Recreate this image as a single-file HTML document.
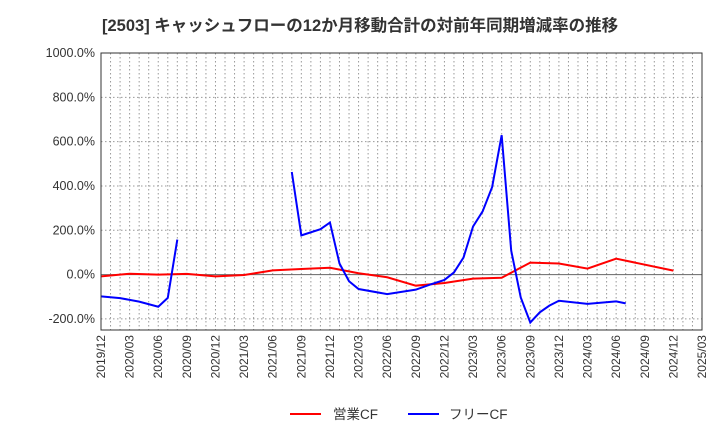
<!DOCTYPE html>
<html><head><meta charset="utf-8"><style>
body{margin:0;background:#fff;width:720px;height:440px;overflow:hidden;font-family:"Liberation Sans","Noto Sans CJK JP",sans-serif}
</style></head><body>
<svg id="chart" width="720" height="440" xmlns="http://www.w3.org/2000/svg">
<text x="102" y="31" font-size="16.5" font-weight="bold" fill="#333" font-family="Liberation Sans,Noto Sans CJK JP,sans-serif">[2503]  キャッシュフローの12か月移動合計の対前年同期増減率の推移</text>
<g id="grid"></g><g id="series"></g><g id="axes"></g>
<g>
<line x1="290" y1="414" x2="321" y2="414" stroke="#f00" stroke-width="2"/>
<text x="333" y="419" font-size="13.5" fill="#333" font-family="Liberation Sans,Noto Sans CJK JP,sans-serif">営業CF</text>
<line x1="408" y1="414" x2="439" y2="414" stroke="#00f" stroke-width="2"/>
<text x="449" y="419" font-size="13.5" fill="#333" font-family="Liberation Sans,Noto Sans CJK JP,sans-serif">フリーCF</text>
</g>
</svg>
<script>
const xTickLabels=["2019/12","2020/03","2020/06","2020/09","2020/12","2021/03","2021/06","2021/09","2021/12","2022/03","2022/06","2022/09","2022/12","2023/03","2023/06","2023/09","2023/12","2024/03","2024/06","2024/09","2024/12","2025/03"];
const yTicks=[-200,0,200,400,600,800,1000];
const opMonths=[0,3,6,9,12,15,18,21,24,27,30,33,36,39,42,45,48,51,54,60];
const opValues=[-8,4,0,3,-8,-2,19,25,31,6,-12,-50,-38,-18,-14,54,50,27,72,18];
const fcfMonths=[[0,2,4,6,7,8],[20,21,23,24,25,26,27,30,33,34.5,36,37,38,39,40,41,42,43,44,45,46,47,48,51,54,55]];
const fcfValues=[[-98,-106,-122,-145,-105,158],[463,177,205,235,50,-30,-65,-88,-68,-45,-24,10,77,217,285,395,629,108,-103,-216,-170,-140,-118,-132,-121,-130]];
const L=101,R=702,T=53,B=330,yMin=-250,yMax=1000,nMonths=63;
const X=m=>L+m*(R-L)/nMonths;
const Y=v=>T+(yMax-v)*(B-T)/(yMax-yMin);
const NS="http://www.w3.org/2000/svg";
function mk(t,a,p){const e=document.createElementNS(NS,t);for(const k in a)e.setAttribute(k,a[k]);p.appendChild(e);return e;}
const grid=document.getElementById('grid'),axes=document.getElementById('axes'),ser=document.getElementById('series');
for(let m=1;m<nMonths;m++){const l=mk('line',{x1:X(m),x2:X(m),y1:T,y2:B,stroke:'#999','stroke-dasharray':'1.5,2.5','stroke-width':1},grid);

}
yTicks.forEach(v=>{const l=mk('line',{x1:L,x2:R,y1:Y(v),y2:Y(v),stroke:v===0?'#666':'#999','stroke-dasharray':v===0?'':'1.5,2.5','stroke-width':1},grid);


const t=mk('text',{x:L-6,y:Y(v)+4,'text-anchor':'end','font-size':12.5,fill:'#333'},axes);t.textContent=v.toFixed(1)+'%';

});
const fr=mk('rect',{x:L,y:T,width:R-L,height:B-T,fill:'none',stroke:'#333','stroke-width':1},axes);


xTickLabels.forEach((s,i)=>{const x=X(i*3),y=B+5;const t=mk('text',{x:x+4,y:y,'text-anchor':'end','font-size':12,fill:'#333',transform:`rotate(-90 ${x+4} ${y})`},axes);t.textContent=s;

});
const op=mk('polyline',{points:opMonths.map((m,i)=>X(m)+','+Y(opValues[i])).join(' '),fill:'none',stroke:'#f00','stroke-width':2},ser);


fcfMonths.forEach((ms,j)=>{const p=mk('polyline',{points:ms.map((m,i)=>X(m)+','+Y(fcfValues[j][i])).join(' '),fill:'none',stroke:'#00f','stroke-width':2},ser);

});
</script>
</body></html>
